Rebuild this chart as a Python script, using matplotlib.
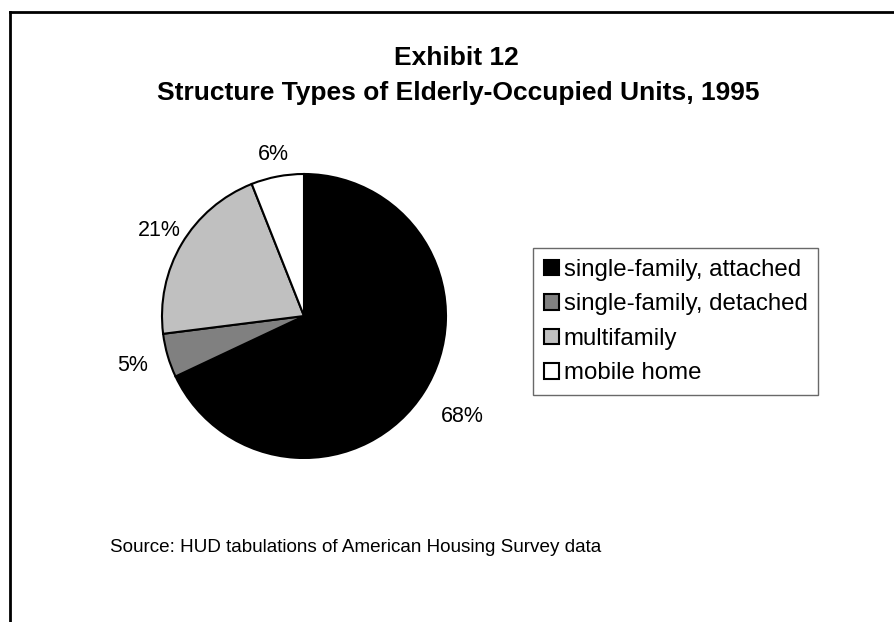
import numpy as np
import matplotlib
matplotlib.use("Agg")
import matplotlib.pyplot as plt
from matplotlib.lines import Line2D
from matplotlib.patches import Patch

# data
categories = ["single-family, attached", "single-family, detached", "multifamily", "mobile home"]
shares = [68, 5, 21, 6]
fill_colors = ["#000000", "#808080", "#c0c0c0", "#ffffff"]

# how far out each percent label sits (in pie radii), like the Excel layout
label_radius = [1.32, 1.26, 1.18, 1.16]

W, H = 894, 622
plt.rcParams["font.family"] = ["Liberation Sans", "DejaVu Sans"]

fig = plt.figure(figsize=(W / 100, H / 100), dpi=100)

# outer frame (left and top edges only visible)
fig.add_artist(Line2D([10 / W, 10 / W], [0, 1 - 12 / H], color="black", lw=2))
fig.add_artist(Line2D([10 / W, 1], [1 - 12 / H, 1 - 12 / H], color="black", lw=2))

# titles
fig.text(456 / W, 1 - 58 / H, "Exhibit 12", ha="center", va="center",
         fontsize=19, fontweight="bold")
fig.text(458 / W, 1 - 93 / H, "Structure Types of Elderly-Occupied Units, 1995",
         ha="center", va="center", fontsize=19, fontweight="bold")

# pie
cx, cy, r = 304, 316, 142
ax = fig.add_axes([(cx - r) / W, (H - cy - r) / H, 2 * r / W, 2 * r / H])
wedges, _ = ax.pie(shares, colors=fill_colors, startangle=90, counterclock=False,
                   radius=1, wedgeprops=dict(edgecolor="black", linewidth=1.5))
ax.set_xlim(-1, 1)
ax.set_ylim(-1, 1)
ax.set_aspect("auto")
ax.axis("off")

for w, v, d in zip(wedges, shares, label_radius):
    ang = np.deg2rad((w.theta1 + w.theta2) / 2)
    ax.text(d * np.cos(ang), d * np.sin(ang), f"{v}%", ha="center", va="center",
            fontsize=15.5, clip_on=False)

# legend
handles = [Patch(facecolor=col, edgecolor="black", linewidth=1.5) for col in fill_colors]
leg = fig.legend(handles, categories, loc="upper left",
                 bbox_to_anchor=(533 / W, 1 - 248 / H), fontsize=17.3,
                 frameon=True, fancybox=False, handlelength=0.62, handleheight=0.62,
                 handletextpad=0.2, labelspacing=0.52, borderpad=0.45, borderaxespad=0)
leg.get_frame().set_edgecolor("#444444")
leg.get_frame().set_linewidth(1)

# source note
fig.text(110 / W, 1 - 547 / H, "Source: HUD tabulations of American Housing Survey data",
         ha="left", va="center", fontsize=13.6)

fig.savefig("out.png", dpi=100)
